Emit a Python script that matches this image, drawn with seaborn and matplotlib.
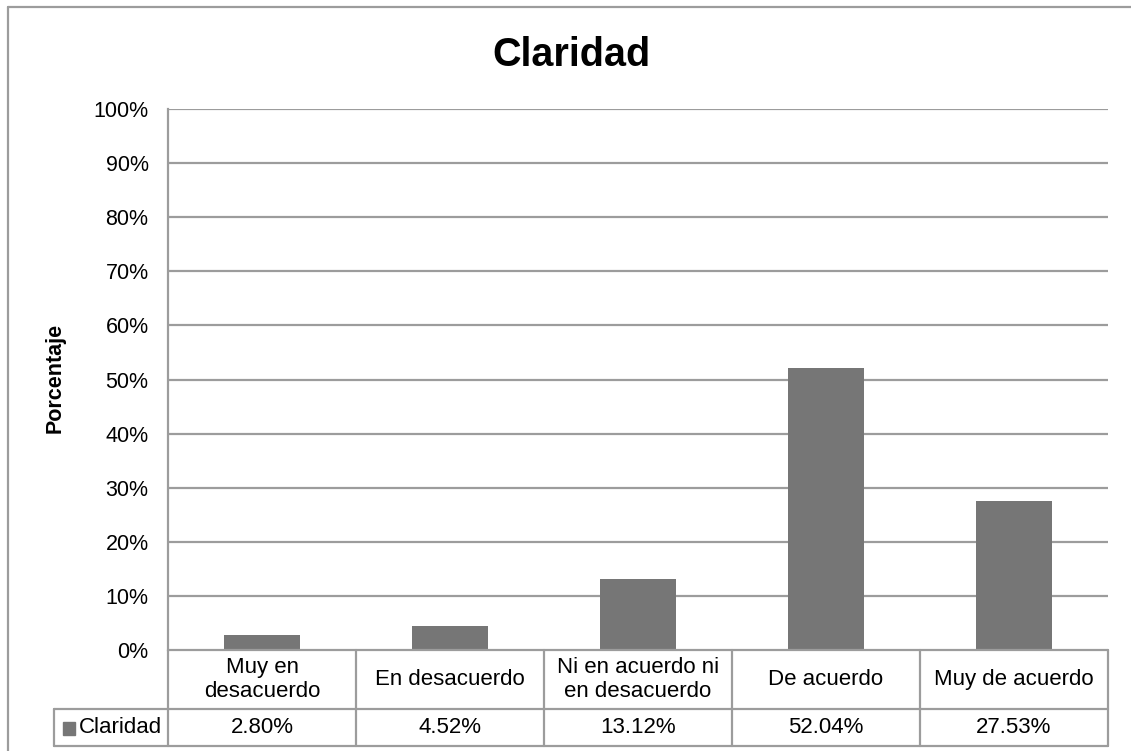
import matplotlib
matplotlib.use("Agg")
import matplotlib.pyplot as plt
import matplotlib.transforms as mtransforms
from matplotlib.patches import Rectangle
import seaborn as sns
import pandas as pd

# Datos
categorias = ["Muy en\ndesacuerdo", "En desacuerdo", "Ni en acuerdo ni\nen desacuerdo",
              "De acuerdo", "Muy de acuerdo"]
valores = [2.80, 4.52, 13.12, 52.04, 27.53]
serie = "Claridad"
yticks = list(range(0, 101, 10))

W, H = 1131, 751
gris_barra = "#767676"
gris_linea = "#9c9c9c"

sns.set_theme(style="white")
plt.rcParams["font.family"] = ["Liberation Sans", "DejaVu Sans"]

df = pd.DataFrame({"cat": categorias, "val": valores})

fig = plt.figure(figsize=(W / 100, H / 100), dpi=100)
fig.patch.set_facecolor("white")

def fx(x):
    return x / W

def fy(y):
    return 1 - y / H

# área de trazado
ax = fig.add_axes([fx(168), fy(650), fx(1108) - fx(168), fy(109) - fy(650)])
sns.barplot(data=df, x="cat", y="val", color=gris_barra, width=0.4,
            saturation=1, edgecolor="none", ax=ax)
ax.set_xlim(-0.5, len(categorias) - 0.5)
ax.set_ylim(0, 100)
ax.set_yticks(yticks)
ax.set_yticklabels([f"{t}%" for t in yticks], fontsize=15.5, color="black")
ax.set_xticks([])
ax.set_xlabel("")
ax.set_ylabel("")
ax.tick_params(axis="y", length=0, pad=14)
for t in yticks[1:]:
    ax.axhline(t, color=gris_linea, lw=1.6, zorder=0)
for s in ["top", "right", "bottom"]:
    ax.spines[s].set_visible(False)
ax.spines["left"].set_color(gris_linea)
ax.spines["left"].set_linewidth(1.6)

# tabla de datos
tr = mtransforms.blended_transform_factory(ax.transData, fig.transFigure)
n = len(categorias)
x_leyenda = -0.5 - (168 - 54) / 188
y_top, y_mid, y_bot = fy(650), fy(709), fy(746)
kw = dict(color=gris_linea, lw=1.6, transform=tr, clip_on=False)
ax.plot([-0.5, n - 0.5], [y_top, y_top], **kw)
ax.plot([x_leyenda, n - 0.5], [y_mid, y_mid], **kw)
ax.plot([x_leyenda, n - 0.5], [y_bot, y_bot], **kw)
ax.plot([x_leyenda, x_leyenda], [y_mid, y_bot], **kw)
for i in range(n + 1):
    xb = i - 0.5
    ax.plot([xb, xb], [y_top, y_bot], **kw)

for i, (c, v) in enumerate(zip(categorias, valores)):
    ax.text(i, (y_top + y_mid) / 2, c, transform=tr, ha="center", va="center",
            fontsize=16, color="black", linespacing=1.15)
    ax.text(i, (y_mid + y_bot) / 2, f"{v:.2f}%", transform=tr, ha="center",
            va="center", fontsize=16, color="black")

fig.patches.append(Rectangle((fx(63), fy(735)), fx(12), fy(722) - fy(735),
                             transform=fig.transFigure, color=gris_barra))
fig.text(fx(79), (y_mid + y_bot) / 2, serie, ha="left", va="center",
         fontsize=16, color="black")

# títulos
fig.text(fx(571), fy(55), "Claridad", ha="center", va="center",
         fontsize=28.5, fontweight="bold", color="black")
fig.text(fx(55), fy(378), "Porcentaje", ha="center", va="center",
         rotation=90, fontsize=15.5, fontweight="bold", color="black")

# marco exterior
fig.add_artist(plt.Line2D([fx(8), 1], [fy(7), fy(7)], color=gris_linea, lw=1.6,
                          transform=fig.transFigure))
fig.add_artist(plt.Line2D([fx(8), fx(8)], [fy(7), 0], color=gris_linea, lw=1.6,
                          transform=fig.transFigure))

fig.savefig("out.png", dpi=100, facecolor="white")
